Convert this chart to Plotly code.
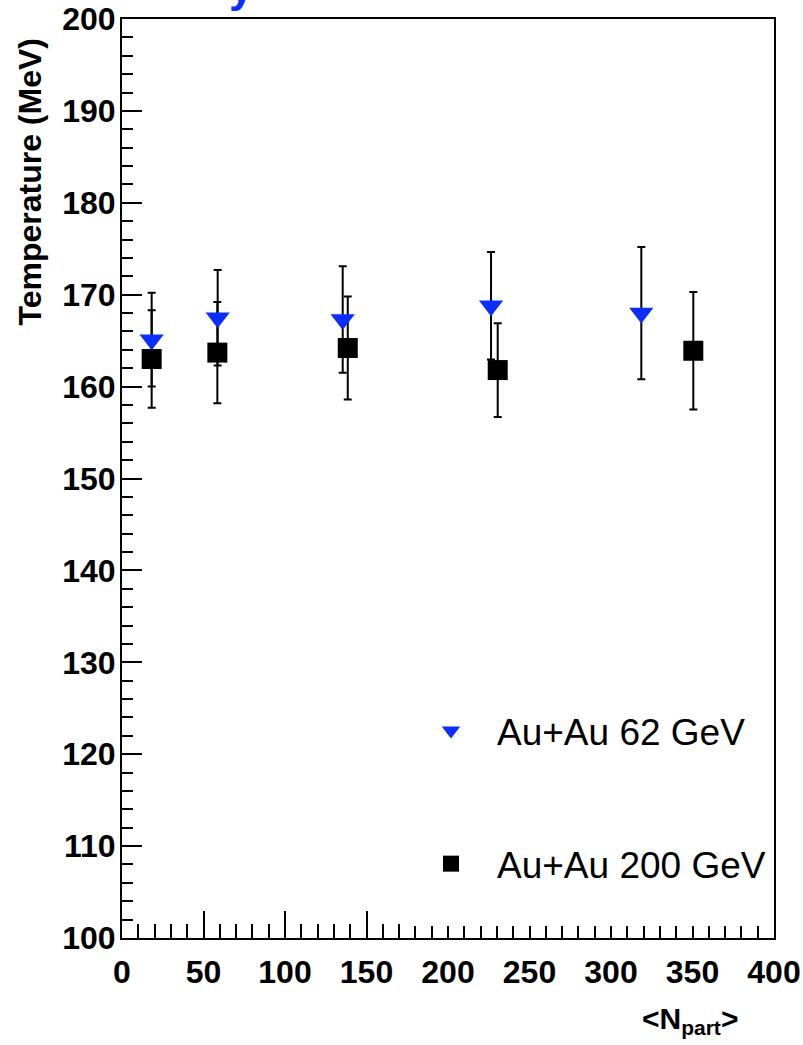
import plotly.graph_objects as go

# ---- data ----
npart_62 = [18.2, 58.7, 135.4, 226.4, 318.6]
temp_62 = [165.1, 167.5, 167.3, 168.8, 168.0]
err_62 = [5.1, 5.2, 5.8, 5.85, 7.2]

npart_200 = [18.2, 58.5, 138.5, 230.5, 350.5]
temp_200 = [163.0, 163.7, 164.2, 161.8, 163.9]
err_200 = [5.3, 5.5, 5.6, 5.1, 6.4]

name_62 = "Au+Au 62 GeV"
name_200 = "Au+Au 200 GeV"
x_title = "&lt;N<sub>part</sub>&gt;"
y_title = "Temperature (MeV)"
cut_title = "y"

BLUE = "#0a2eff"
FONT = "Liberation Sans, Arial, Helvetica, sans-serif"

W, H = 803, 1045
L, R, T, B = 122, 29, 19, 107
PW, PH = W - L - R, H - T - B


def px_x(p):
    return (p - L) / PW


def px_y(p):
    return (H - B - p) / PH


fig = go.Figure()
fig.add_trace(go.Scatter(
    x=npart_200, y=temp_200, mode="markers", name=name_200,
    marker=dict(symbol="square", size=20, color="black"),
    error_y=dict(type="data", array=err_200, color="black", thickness=2, width=4),
    legendrank=2, legendgroup="b"))
fig.add_trace(go.Scatter(
    x=npart_62, y=temp_62, mode="markers", name=name_62,
    marker=dict(symbol="triangle-down", size=21, color=BLUE),
    error_y=dict(type="data", array=err_62, color="black", thickness=2, width=4),
    legendrank=1, legendgroup="a"))

tickfont = dict(family=FONT, size=32, color="black", weight="bold")

fig.update_xaxes(
    range=[0, 400], tick0=0, dtick=50, ticks="inside", ticklen=27, tickwidth=2,
    tickcolor="black", minor=dict(dtick=10, ticklen=14, tickwidth=2, ticks="inside",
                                  tickcolor="black"),
    showline=True, mirror=True, linecolor="black", linewidth=2, automargin=False,
    showgrid=False, zeroline=False, tickfont=tickfont, ticklabelstandoff=5)
fig.update_yaxes(
    range=[100, 200], tick0=100, dtick=10, ticks="inside", ticklen=20, tickwidth=2,
    tickcolor="black", minor=dict(dtick=2, ticklen=11, tickwidth=2, ticks="inside",
                                  tickcolor="black"),
    showline=True, mirror=True, linecolor="black", linewidth=2, automargin=False,
    showgrid=False, zeroline=False, tickfont=tickfont, ticklabelstandoff=-2)

fig.update_layout(
    width=W, height=H, margin=dict(l=L, r=R, t=T, b=B, autoexpand=False),
    paper_bgcolor="white", plot_bgcolor="white",
    showlegend=True,
    legend=dict(x=px_x(405), y=px_y(700), xanchor="left", yanchor="top",
                bgcolor="rgba(0,0,0,0)", font=dict(family=FONT, size=37, color="black"),
                tracegroupgap=82, itemwidth=82),
    shapes=[dict(type="rect", xref="paper", yref="paper", layer="above",
                 x0=px_x(405), x1=px_x(771), y0=px_y(926), y1=px_y(690),
                 fillcolor="white", line=dict(width=0))],
    annotations=[
        dict(text=y_title, xref="paper", yref="paper", x=px_x(29), y=px_y(182.5),
             xanchor="center", yanchor="middle", textangle=-90, showarrow=False,
             font=dict(family=FONT, size=32, color="black", weight="bold")),
        dict(text=x_title, xref="paper", yref="paper", x=px_x(740), y=px_y(1000),
             xanchor="right", yanchor="top", showarrow=False,
             font=dict(family=FONT, size=30, color="black", weight="bold")),
        dict(text=cut_title, xref="paper", yref="paper", x=px_x(241), y=px_y(-13),
             xanchor="center", yanchor="middle", showarrow=False,
             font=dict(family=FONT, size=44, color=BLUE, weight="bold")),
    ],
)

fig.write_html("out.html", config={"displayModeBar": False},
               post_script="document.body.style.margin='0';")
